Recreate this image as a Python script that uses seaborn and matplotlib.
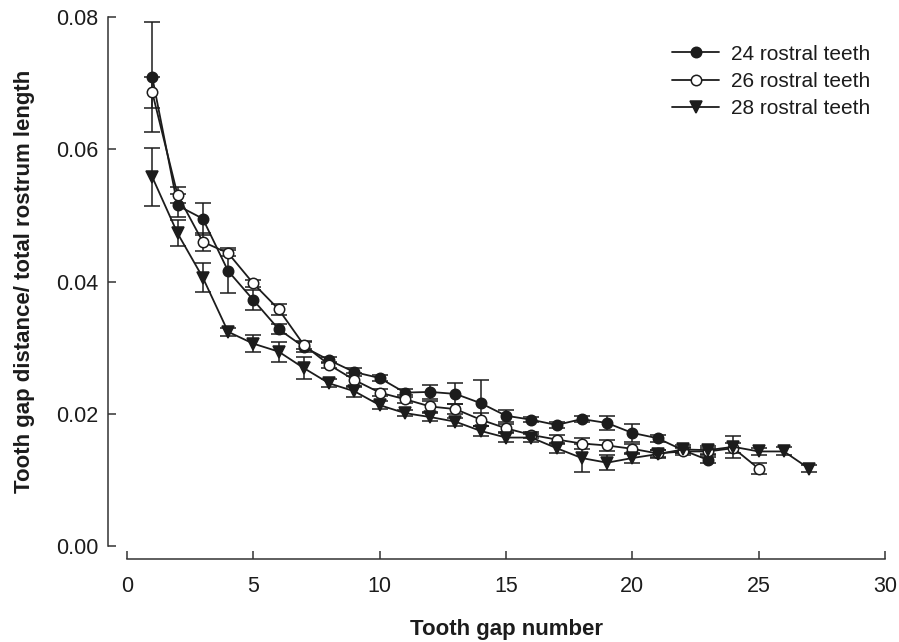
import numpy as np
import pandas as pd
import matplotlib
matplotlib.use("Agg")
import matplotlib.pyplot as plt
import seaborn as sns

# ---- data ----
gaps24 = list(range(1, 24))
ratio24 = [0.0709, 0.0515, 0.0495, 0.0416, 0.0372, 0.0328, 0.0301, 0.0281, 0.0263, 0.0254,
           0.0232, 0.0233, 0.0230, 0.0216, 0.0197, 0.0191, 0.0183, 0.0192, 0.0186, 0.0171,
           0.0163, 0.0145, 0.0130]
err24 = [0.0083, 0.0018, 0.0024, 0.0034, 0.0015, 0.0008, 0.0008, 0.0005, 0.0006, 0.0005,
         0.0006, 0.0011, 0.0016, 0.0035, 0.0009, 0.0004, 0.0004, 0.0004, 0.0011, 0.0014,
         0.0005, 0.0005, 0.0005]

gaps26 = list(range(1, 26))
ratio26 = [0.0686, 0.0531, 0.0460, 0.0443, 0.0397, 0.0358, 0.0304, 0.0274, 0.0251, 0.0232,
           0.0222, 0.0211, 0.0207, 0.0191, 0.0178, 0.0168, 0.0161, 0.0155, 0.0152, 0.0147,
           0.0140, 0.0143, 0.0143, 0.0148, 0.0117]
err26 = [0.0023, 0.0012, 0.0014, 0.0005, 0.0006, 0.0008, 0.0006, 0.0005, 0.0010, 0.0005,
         0.0006, 0.0008, 0.0008, 0.0010, 0.0006, 0.0005, 0.0007, 0.0008, 0.0009, 0.0008,
         0.0005, 0.0005, 0.0005, 0.0008, 0.0008]

gaps28 = list(range(1, 28))
ratio28 = [0.0558, 0.0473, 0.0406, 0.0324, 0.0306, 0.0294, 0.0269, 0.0246, 0.0234, 0.0213,
           0.0201, 0.0195, 0.0188, 0.0174, 0.0164, 0.0164, 0.0148, 0.0133, 0.0126, 0.0133,
           0.0139, 0.0146, 0.0145, 0.0150, 0.0143, 0.0143, 0.0117]
err28 = [0.0044, 0.0020, 0.0022, 0.0006, 0.0013, 0.0015, 0.0017, 0.0006, 0.0008, 0.0006,
         0.0005, 0.0006, 0.0006, 0.0007, 0.0007, 0.0006, 0.0008, 0.0021, 0.0011, 0.0008,
         0.0006, 0.0006, 0.0006, 0.0017, 0.0005, 0.0006, 0.0005]

series_labels = ["24 rostral teeth", "26 rostral teeth", "28 rostral teeth"]
x_ticks = [0, 5, 10, 15, 20, 25, 30]
y_ticks = [0.00, 0.02, 0.04, 0.06, 0.08]

# ---- style ----
sns.set_style("ticks")
plt.rcParams["font.family"] = ["Liberation Sans", "DejaVu Sans"]
INK = "#1c1c1c"

fig = plt.figure(figsize=(8.99, 6.42), dpi=100)
ax = fig.add_axes([127 / 899, 1 - 546 / 642, (885 - 127) / 899, (546 - 17) / 642])

series = [
    (gaps24, ratio24, err24, "o", INK, 7.5),
    (gaps26, ratio26, err26, "o", "white", 7.5),
    (gaps28, ratio28, err28, "v", INK, 8.5),
]

for (gx, gy, ge, mk, face, ms), lab in zip(series, series_labels):
    ax.errorbar(gx, gy, yerr=ge, fmt="none", ecolor=INK, elinewidth=1.1,
                capsize=6, capthick=1.1, zorder=2)
    sns.lineplot(x=gx, y=gy, ax=ax, color=INK, marker=mk, markersize=ms,
                 markerfacecolor=face, markeredgecolor=INK, markeredgewidth=1.1,
                 linewidth=1.3, label=lab, errorbar=None, zorder=3)

ax.set_xlim(0, 30)
ax.set_ylim(0, 0.08)
ax.set_xticks(x_ticks)
ax.set_xticklabels([str(t) for t in x_ticks])
ax.set_yticks(y_ticks)
ax.set_yticklabels([f"{t:.2f}" for t in y_ticks])

for s in ["top", "right"]:
    ax.spines[s].set_visible(False)
ax.spines["left"].set_position(("outward", 13.7))
ax.spines["bottom"].set_position(("outward", 9.4))
for s in ["left", "bottom"]:
    ax.spines[s].set_color("#333333")
    ax.spines[s].set_linewidth(1.1)

ax.tick_params(axis="both", direction="in", length=5.5, width=1.1, color="#333333",
               labelsize=15.5, labelcolor=INK)
ax.tick_params(axis="x", pad=12)
ax.tick_params(axis="y", pad=7)

ax.set_xlabel("Tooth gap number", fontsize=16, fontweight="bold", color=INK, labelpad=16)
ax.set_ylabel("Tooth gap distance/ total rostrum length", fontsize=16,
              fontweight="bold", color=INK, labelpad=15)

leg = ax.legend(loc="upper right", bbox_to_anchor=(1.005, 0.983), frameon=False,
                fontsize=15, handlelength=2.25, handletextpad=0.55, labelspacing=0.4,
                borderaxespad=0.5)
for t in leg.get_texts():
    t.set_color(INK)

fig.savefig("out.png", dpi=100)
